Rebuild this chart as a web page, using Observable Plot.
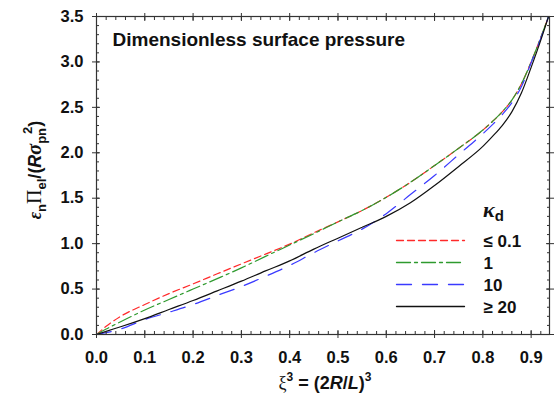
<!DOCTYPE html>
<html>
<head>
<meta charset="utf-8">
<script src="https://cdn.jsdelivr.net/npm/d3@7"></script>
<script src="https://cdn.jsdelivr.net/npm/@observablehq/plot@0.6"></script>
<style>
  html, body { margin: 0; padding: 0; background: #fff; }
  #wrap { position: relative; width: 559px; height: 403px; }
  #chart svg { font-family: "Liberation Sans", Arial, sans-serif; }
  #chart svg text { font-weight: bold; fill: #111; }
  #legend { position: absolute; left: 390px; top: 200px; width: 160px; }
  #legend svg text { font-weight: bold; fill: #111; }
  #ktitle { position: absolute; left: 483px; top: 199px; font: bold 22px "Liberation Sans", Arial, sans-serif; color: #111; line-height: 1; }
  #ktitle i { font-family: "Liberation Serif", "Times New Roman", serif; }
  #ktitle sub { font-size: 15px; vertical-align: -4px; }
</style>
</head>
<body>
<div id="wrap">
  <div id="chart"></div>
  <div id="legend"></div>
  <div id="ktitle"><i>κ</i><sub>d</sub></div>
</div>
<script>
// ---- data ----
const xi3 = [0, 0.02, 0.05, 0.1, 0.15, 0.2, 0.25, 0.3, 0.35, 0.4, 0.45, 0.5, 0.55, 0.6, 0.65, 0.7, 0.75, 0.8, 0.82, 0.84, 0.86, 0.88, 0.9, 0.92, 0.936];
const kLe01 = [0, 0.09, 0.2, 0.33, 0.45, 0.557, 0.668, 0.777, 0.885, 0.995, 1.12, 1.24, 1.365, 1.51, 1.675, 1.86, 2.05, 2.25, 2.345, 2.45, 2.58, 2.76, 3.0, 3.27, 3.5];
const k1    = [0, 0.06, 0.14, 0.27, 0.385, 0.50, 0.615, 0.733, 0.86, 0.985, 1.11, 1.24, 1.365, 1.51, 1.675, 1.86, 2.05, 2.25, 2.345, 2.45, 2.58, 2.76, 3.0, 3.27, 3.5];
const k10   = [0, 0.02, 0.06, 0.165, 0.245, 0.33, 0.43, 0.528, 0.64, 0.76, 0.9, 1.03, 1.16, 1.33, 1.54, 1.75, 1.98, 2.21, 2.31, 2.42, 2.55, 2.73, 2.99, 3.26, 3.5];
const kGe20 = [0, 0.035, 0.085, 0.175, 0.275, 0.374, 0.48, 0.587, 0.70, 0.81, 0.94, 1.06, 1.18, 1.3, 1.45, 1.64, 1.85, 2.07, 2.18, 2.3, 2.45, 2.66, 2.94, 3.24, 3.5];

const seriesNames = ["≤ 0.1", "1", "10", "≥ 20"];
const seriesValues = [kLe01, k1, k10, kGe20];
const seriesColors = ["#ff2a2a", "#2e9a2e", "#3a3aff", "#111111"];
const seriesDash = ["7,4", "14,4,3,4", "15,11", null];

const xMajor = [0, 0.1, 0.2, 0.3, 0.4, 0.5, 0.6, 0.7, 0.8, 0.9];
const xMinor = d3.range(0, 0.94, 0.02);
const yMajor = [0, 0.5, 1.0, 1.5, 2.0, 2.5, 3.0, 3.5];
const yMinor = d3.range(0, 3.51, 0.1);
const titleText = "Dimensionless surface pressure";

// ---- build ----
const rows = [];
seriesValues.forEach((vals, s) => vals.forEach((v, i) => rows.push({s, x: xi3[i], y: v})));

const W = 559, H = 403;
const fmt = d3.format(".1f");
const axisColor = "#333";
const blank = () => "";

const marks = [];
seriesValues.forEach((vals, s) => {
  marks.push(Plot.line(rows.filter(d => d.s === s), {
    x: "x", y: "y", stroke: seriesColors[s], strokeWidth: 1.2,
    strokeDasharray: seriesDash[s] || undefined, curve: "monotone-x", clip: true
  }));
});
marks.push(
  Plot.axisX({anchor: "bottom", ticks: xMajor, tickSize: 4, tickPadding: 13, tickFormat: fmt, stroke: axisColor, fontSize: 16.5}),
  Plot.axisX({anchor: "bottom", ticks: xMajor, tickSize: -4, tickFormat: blank, stroke: axisColor}),
  Plot.axisX({anchor: "bottom", ticks: xMinor, tickSize: -3, tickFormat: blank, stroke: axisColor}),
  Plot.axisX({anchor: "top", ticks: xMajor, tickSize: 4, tickFormat: blank, stroke: axisColor}),
  Plot.axisX({anchor: "top", ticks: xMajor, tickSize: -4, tickFormat: blank, stroke: axisColor}),
  Plot.axisX({anchor: "top", ticks: xMinor, tickSize: -3, tickFormat: blank, stroke: axisColor}),
  Plot.axisY({anchor: "left", ticks: yMajor, tickSize: 4, tickPadding: 9, tickFormat: fmt, stroke: axisColor, fontSize: 16.5}),
  Plot.axisY({anchor: "left", ticks: yMajor, tickSize: -4, tickFormat: blank, stroke: axisColor}),
  Plot.axisY({anchor: "left", ticks: yMinor, tickSize: -3, tickFormat: blank, stroke: axisColor}),
  Plot.axisY({anchor: "right", ticks: yMajor, tickSize: 4, tickFormat: blank, stroke: axisColor}),
  Plot.axisY({anchor: "right", ticks: yMajor, tickSize: -4, tickFormat: blank, stroke: axisColor}),
  Plot.axisY({anchor: "right", ticks: yMinor, tickSize: -3, tickFormat: blank, stroke: axisColor}),
  Plot.frame({stroke: axisColor, strokeWidth: 1.2}),
  Plot.text([titleText], {frameAnchor: "top-left", dx: 16, dy: 16, fontSize: 19, fontWeight: "bold", text: d => d, textAnchor: "start", lineAnchor: "top"})
);

const chart = Plot.plot({
  width: W, height: H,
  marginLeft: 96, marginRight: 10, marginTop: 16, marginBottom: 69,
  x: {domain: [0, 0.938], label: null},
  y: {domain: [0, 3.5], label: null},
  style: {fontFamily: "Liberation Sans, Arial, sans-serif", fontWeight: "bold", color: "#111", background: "#fff"},
  marks
});
document.getElementById("chart").appendChild(chart);

// ---- legend as a small Plot overlay ----
const legendRows = seriesNames.map((name, i) => ({name, i}));
const legendMarks = seriesNames.map((name, i) =>
  Plot.line([{name, t: 0}, {name, t: 1}], {x: "t", y: "name", stroke: seriesColors[i], strokeWidth: 1.3,
    strokeDasharray: seriesDash[i] || undefined}));
legendMarks.push(Plot.text(legendRows, {x: 1, y: "name", text: "name", dx: 19, dy: 1, textAnchor: "start",
  fontSize: 17, fontWeight: "bold", fill: "#111"}));
const legend = Plot.plot({
  width: 160, height: 120, margin: 0,
  x: {domain: [0, 1], range: [6, 74], axis: null},
  y: {type: "point", domain: seriesNames, range: [39.5, 105.5], padding: 0, axis: null},
  style: {fontFamily: "Liberation Sans, Arial, sans-serif", background: "transparent"},
  marks: legendMarks
});
legend.style.background = "transparent";
document.getElementById("legend").appendChild(legend);

// ---- axis titles ----
const svg = d3.select(chart);
const serif = "Liberation Serif, Times New Roman, serif";
const sans = "Liberation Sans, Arial, sans-serif";

const yt = svg.append("text")
  .attr("transform", "translate(41,170) rotate(-90)")
  .attr("text-anchor", "middle")
  .style("font-size", "18px").style("font-family", sans).style("font-weight", "bold");
yt.append("tspan").style("font-family", serif).style("font-style", "italic").text("ε");
yt.append("tspan").style("font-size", "13px").attr("dy", 5).text("n");
yt.append("tspan").style("font-family", serif).style("font-weight", "normal").style("font-size", "20px").attr("dy", -5).text("Π");
yt.append("tspan").style("font-size", "13px").attr("dy", 5).text("el");
yt.append("tspan").attr("dy", -5).text("/(");
yt.append("tspan").style("font-style", "italic").text("R");
yt.append("tspan").style("font-family", serif).style("font-style", "italic").style("font-size", "20px").text("σ");
yt.append("tspan").style("font-size", "13px").attr("dy", 5).text("pn");
yt.append("tspan").style("font-size", "13px").attr("dy", -14).attr("dx", -6).text("2");
yt.append("tspan").attr("dy", 9).text(")");

const xt = svg.append("text")
  .attr("x", 325).attr("y", 389)
  .attr("text-anchor", "middle")
  .style("font-size", "18px").style("font-family", sans).style("font-weight", "bold");
xt.append("tspan").style("font-family", serif).style("font-weight", "normal").text("ξ");
xt.append("tspan").style("font-size", "12px").attr("dy", -8).text("3");
xt.append("tspan").attr("dy", 8).text(" = (2");
xt.append("tspan").style("font-style", "italic").text("R");
xt.append("tspan").text("/");
xt.append("tspan").style("font-style", "italic").text("L");
xt.append("tspan").text(")");
xt.append("tspan").style("font-size", "12px").attr("dy", -8).text("3");
</script>
</body>
</html>
